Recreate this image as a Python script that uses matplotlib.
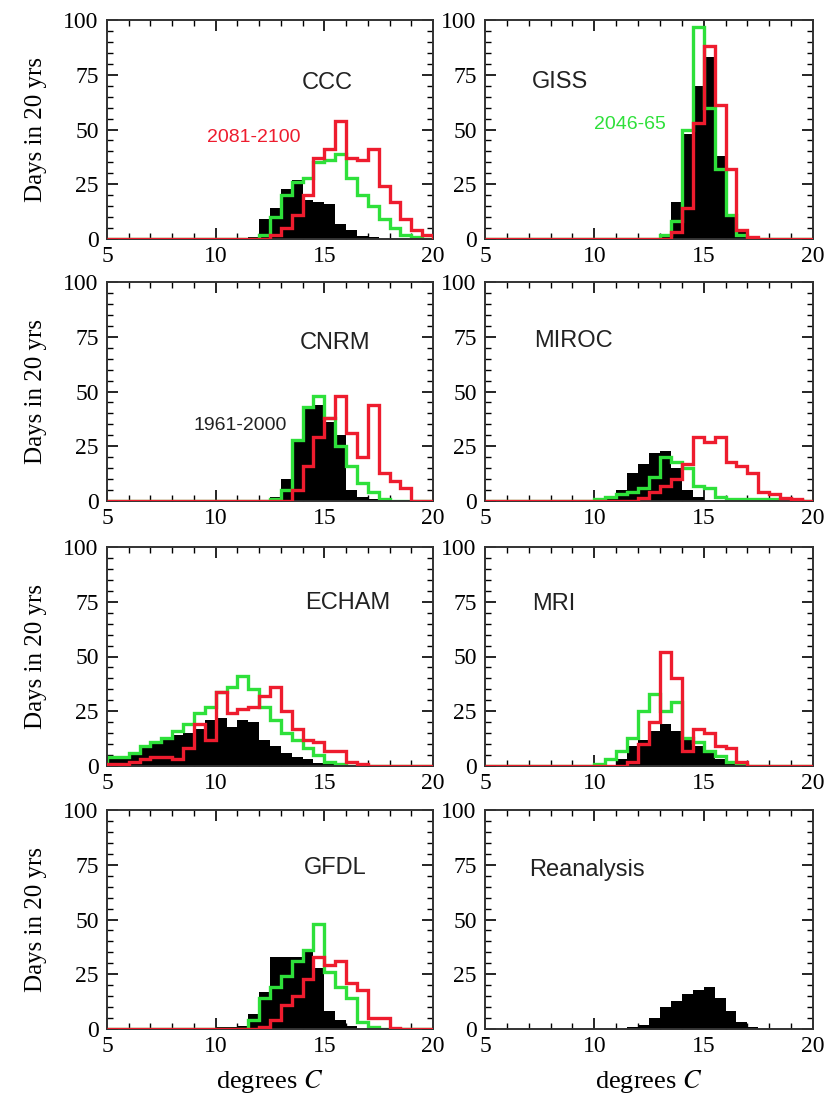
import numpy as np
import matplotlib.pyplot as plt
from matplotlib.ticker import MultipleLocator

plt.rcParams['font.family'] = ['Liberation Serif', 'DejaVu Serif']
plt.rcParams['font.size'] = 16
plt.rcParams['mathtext.fontset'] = 'stix'

# bin edges: 5 to 20 degC in 0.5 degC bins
edges = np.arange(5.0, 20.01, 0.5)

RED = '#ee1c2e'
GREEN = '#2ee03a'

# each series: (first bin left edge, values in days per 20 yrs)
ccc_black = (11.5, [1, 9, 14, 23, 27, 18, 17, 16, 7, 4, 1.5, 1])
ccc_green = (12.0, [2, 10, 20, 26, 28, 35, 36, 39, 28, 20, 15, 9, 5, 2, 1])
ccc_red = (12.5, [2, 5, 11, 20, 37, 41, 54, 37, 36, 41, 24, 17, 9, 4, 2])

giss_black = (13.0, [2, 17, 48, 70, 83, 38, 11, 3])
giss_green = (13.0, [2, 8, 50, 97, 60, 32, 11, 2])
giss_red = (13.5, [3, 14, 53, 88, 61, 32, 4, 1])

cnrm_black = (12.5, [2, 10, 27, 42, 44, 36, 30, 5, 2, 1])
cnrm_green = (12.5, [1, 5, 28, 43, 48, 38, 25, 16, 8, 4, 1])
cnrm_red = (13.5, [5, 16, 29, 38, 48, 31, 20, 44, 13, 9, 6])

miroc_black = (10.5, [1, 5, 13, 17, 22, 23, 15, 5, 2])
miroc_green = (10.0, [1, 2, 3, 4, 6, 11, 20, 18, 15, 7, 6, 2, 1, 1, 1, 1, 1, 1, 0.5])
miroc_red = (12.0, [1.5, 4, 7, 10, 17, 29, 27, 29, 18, 16, 13, 4, 3, 1.5, 1])

echam_black = (5.0, [3, 4, 6, 8, 10, 12, 14, 15, 17, 21, 22, 18, 21, 20, 12, 9, 6, 4, 3, 1.5, 1, 0.5])
echam_green = (5.0, [4, 4, 6, 9, 11, 13, 16, 19, 24, 27, 34, 36, 41, 35, 27, 21, 15, 12, 8, 5, 2, 1])
echam_red = (5.0, [1, 1, 2, 3, 4, 4, 3, 8, 19, 12, 34, 24, 26, 27, 32, 36, 25, 17, 12, 11, 7, 7, 2, 1])

mri_black = (11.0, [3, 9, 12, 16, 19, 16, 12, 9, 6, 3, 1.5, 0.5])
mri_green = (10.0, [1, 3, 7, 13, 25, 33, 25, 29, 13, 11, 7, 4.5, 2, 1])
mri_red = (11.5, [2, 10, 20, 52, 40, 7, 17, 15, 9, 8, 2])

gfdl_black = (10.0, [1, 1, 1.5, 7, 17, 33, 33, 33, 35, 28, 8, 4, 1.5])
gfdl_green = (11.5, [4, 14, 19, 24, 31, 36, 48, 26, 19, 14, 3, 1])
gfdl_red = (12.0, [1, 4, 11, 15, 23, 33, 29, 31, 21, 18, 5, 5, 0.5])

rean_black = (11.5, [1, 2, 5, 10, 13, 16, 18, 19, 14, 8, 3, 1])

panels = [
    ('CCC', ccc_black, ccc_green, ccc_red, (0.675, 0.714)),
    ('GISS', giss_black, giss_green, giss_red, (0.229, 0.718)),
    ('CNRM', cnrm_black, cnrm_green, cnrm_red, (0.70, 0.72)),
    ('MIROC', miroc_black, miroc_green, miroc_red, (0.27, 0.73)),
    ('ECHAM', echam_black, echam_green, echam_red, (0.74, 0.745)),
    ('MRI', mri_black, mri_green, mri_red, (0.21, 0.74)),
    ('GFDL', gfdl_black, gfdl_green, gfdl_red, (0.70, 0.734)),
    ('Reanalysis', rean_black, None, None, (0.31, 0.725)),
]


def full(series):
    start, vals = series
    out = np.zeros(len(edges) - 1)
    i0 = int(round((start - edges[0]) / 0.5))
    out[i0:i0 + len(vals)] = vals
    return out


fig = plt.figure(figsize=(8.37, 11.0), dpi=100)

col_x = [107 / 837, 485 / 837]
col_w = [326 / 837, 328 / 837]
row_top = [20, 282, 547, 810]
row_h = 219
sans = ['Liberation Sans', 'DejaVu Sans']

for k, (name, blk, grn, red, tpos) in enumerate(panels):
    r, c = k // 2, k % 2
    ax = fig.add_axes([col_x[c], 1 - (row_top[r] + row_h) / 1100, col_w[c], row_h / 1100])
    ax.stairs(full(blk), edges, fill=True, color='black', zorder=1)
    if grn is not None:
        ax.stairs(full(grn), edges, color=GREEN, lw=2.4, zorder=2)
    if red is not None:
        ax.stairs(full(red), edges, color=RED, lw=2.4, zorder=3)
    ax.set_xlim(5, 20)
    ax.set_ylim(0, 100)
    ax.xaxis.set_major_locator(MultipleLocator(5))
    ax.xaxis.set_minor_locator(MultipleLocator(1))
    ax.yaxis.set_major_locator(MultipleLocator(25))
    ax.yaxis.set_minor_locator(MultipleLocator(5))
    ax.tick_params(which='both', direction='in', top=True, right=True, labelsize=17)
    ax.tick_params(which='major', length=8, width=1.2)
    ax.tick_params(which='minor', length=4, width=1.0)
    ax.tick_params(axis='x', pad=5)
    ax.tick_params(axis='y', pad=6)
    for sp in ax.spines.values():
        sp.set_linewidth(1.4)
        sp.set_color('#333333')
    ax.text(tpos[0], tpos[1], name, transform=ax.transAxes, ha='center', va='center',
            fontsize=17, family=sans, color='#222222')
    if c == 0:
        ax.set_ylabel('Days in 20 yrs', fontsize=18, labelpad=12)
    if r == 3:
        ax.set_xlabel('degrees $C$', fontsize=19, labelpad=8)
    if name == 'CCC':
        ax.text(0.45, 0.464, '2081-2100', transform=ax.transAxes, ha='center', va='center',
                fontsize=14, color=RED, family=sans)
    if name == 'GISS':
        ax.text(0.442, 0.523, '2046-65', transform=ax.transAxes, ha='center', va='center',
                fontsize=14, color=GREEN, family=sans)
    if name == 'CNRM':
        ax.text(0.41, 0.344, '1961-2000', transform=ax.transAxes, ha='center', va='center',
                fontsize=14, color='#222222', family=sans, zorder=5)

fig.savefig('out.png', dpi=100)
